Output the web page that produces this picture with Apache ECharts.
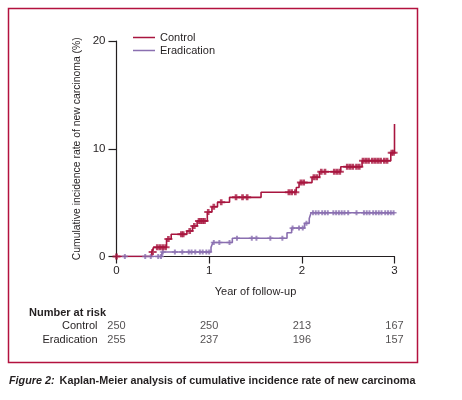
<!DOCTYPE html>
<html>
<head>
<meta charset="utf-8">
<script src="https://cdn.jsdelivr.net/npm/echarts@6/dist/echarts.min.js"></script>
<style>
html,body{margin:0;padding:0;background:#fff;}
#chart{width:462px;height:400px;}
</style>
</head>
<body>
<div id="chart"></div>
<script>
// ---- data ----
var seriesNames = ['Control', 'Eradication'];
// Kaplan-Meier steps: [time (years), cumulative incidence (%) after event]
var controlSteps = [[0,0],[0.38,0.42],[0.40,0.85],[0.54,1.62],[0.59,2.06],[0.76,2.37],[0.82,2.83],[0.87,3.29],[0.98,4.13],[1.03,4.62],[1.09,5.03],[1.22,5.49],[1.56,5.96],[1.94,6.40],[1.97,6.86],[2.11,7.35],[2.19,7.87],[2.42,8.33],[2.65,8.89],[2.96,9.63],[3.00,12.3]];
var eradicationSteps = [[0,0],[0.49,0.42],[1.02,0.85],[1.04,1.30],[1.25,1.69],[1.84,2.21],[1.89,2.64],[2.03,3.08],[2.08,3.52],[2.10,4.06],[3.00,4.06]];
// censoring times (years)
var controlCensor = [0,0.39,0.44,0.47,0.50,0.53,0.56,0.70,0.72,0.79,0.84,0.89,0.91,0.93,0.95,0.99,1.05,1.13,1.29,1.36,1.41,1.86,1.89,1.93,1.99,2.02,2.13,2.16,2.21,2.25,2.35,2.38,2.41,2.49,2.52,2.55,2.59,2.62,2.66,2.69,2.72,2.76,2.79,2.82,2.85,2.89,2.92,2.97,2.99];
var eradicationCensor = [0.09,0.31,0.37,0.45,0.48,0.50,0.63,0.71,0.78,0.81,0.85,0.90,0.93,0.97,1.00,1.05,1.11,1.22,1.30,1.46,1.51,1.66,1.79,1.90,1.97,2.01,2.05,2.12,2.15,2.18,2.22,2.25,2.28,2.34,2.37,2.40,2.43,2.46,2.50,2.59,2.67,2.70,2.73,2.77,2.80,2.83,2.86,2.90,2.93,2.96,2.99];
var xTicks = [0,1,2,3];
var yTicks = [0,10,20];
var riskTimes = [0,1,2,3];
var controlRisk = [250,250,213,167];
var eradicationRisk = [255,237,196,157];

// ---- helpers ----
function stepValue(steps, t){
  var v = 0;
  for (var i=0;i<steps.length;i++){ if (steps[i][0] <= t + 1e-9 && steps[i][1] <= 12) v = steps[i][1]; }
  return v;
}
function censorPoints(steps, times){
  return times.map(function(t){ return [t, stepValue(steps, t)]; });
}
function riskPoints(row, vals){
  return vals.map(function(v,i){ return [riskTimes[i], row, v]; });
}

var RED = '#a8153f', PURPLE = '#8a6fb0', FRAME = '#b3123f', INK = '#231f20';
var FONT = '"Liberation Sans", Arial, sans-serif';
var FS = 11;
var plus = 'path://M2,0H4V2H6V4H4V6H2V4H0V2H2Z';

var chart = echarts.init(document.getElementById('chart'), null, {renderer:'canvas'});
chart.setOption({
  animation:false,
  textStyle:{fontFamily:FONT, color:INK},
  graphic:[{type:'rect', shape:{x:8.5,y:8.5,width:409,height:354}, style:{fill:'none', stroke:FRAME, lineWidth:1.5}, silent:true}],
  title:[
    {text:'Number at risk', left:24, top:302, textStyle:{fontFamily:FONT, fontSize:FS, fontWeight:'bold', color:INK}},
    {text:'{i|Figure 2:} {b|Kaplan-Meier analysis of cumulative incidence rate of new carcinoma}', left:4, top:367,
      textStyle:{rich:{i:{fontFamily:FONT, fontSize:10.8, fontWeight:'bold', fontStyle:'italic', color:INK}, b:{fontFamily:FONT, fontSize:10.8, fontWeight:'bold', color:INK}}}}
  ],
  legend:{data:seriesNames, left:128, top:27, orient:'vertical', itemWidth:22, itemHeight:1.5, itemGap:2, icon:'rect',
    textStyle:{fontFamily:FONT, fontSize:FS, color:INK}},
  grid:[
    {left:116.5, right:67.5, top:41, bottom:143.5},
    {left:116.5, right:67.5, top:319, height:28}
  ],
  xAxis:[
    {type:'value', gridIndex:0, min:0, max:3, interval:1, name:'Year of follow-up', nameLocation:'middle', nameGap:30,
      nameTextStyle:{fontFamily:FONT, fontSize:FS, color:INK},
      axisLine:{lineStyle:{color:INK, width:1.2}}, axisTick:{length:7, lineStyle:{color:INK, width:1.2}},
      axisLabel:{fontFamily:FONT, fontSize:FS+0.5, color:INK, margin:8, formatter:function(v){return xTicks.indexOf(v)>=0?String(v):'';}},
      splitLine:{show:false}},
    {type:'value', gridIndex:1, min:0, max:3, show:false}
  ],
  yAxis:[
    {type:'value', gridIndex:0, min:0, max:20, interval:10, name:'Cumulative incidence rate of new carcinoma (%)', nameLocation:'middle', nameGap:27,
      nameTextStyle:{fontFamily:FONT, fontSize:10.4, color:INK},
      axisLine:{show:true, lineStyle:{color:INK, width:1.2}}, axisTick:{show:true, length:8, lineStyle:{color:INK, width:1.2}},
      axisLabel:{fontFamily:FONT, fontSize:FS+0.5, color:INK, margin:11, formatter:function(v){return yTicks.indexOf(v)>=0?String(v):'';}},
      splitLine:{show:false}},
    {type:'category', gridIndex:1, data:seriesNames, inverse:true, axisLine:{show:false}, axisTick:{show:false},
      axisLabel:{fontFamily:FONT, fontSize:FS, color:INK, margin:19, interval:0}}
  ],
  series:[
    {name:'Control', type:'line', step:'end', data:controlSteps, showSymbol:false, lineStyle:{color:RED, width:1.6}, itemStyle:{color:RED}, z:3},
    {name:'Eradication', type:'line', step:'end', data:eradicationSteps, showSymbol:false, lineStyle:{color:PURPLE, width:1.6}, itemStyle:{color:PURPLE}, z:2},
    {name:'Control', type:'scatter', data:censorPoints(controlSteps, controlCensor), symbol:plus, symbolSize:[8,6], itemStyle:{color:RED}, z:4},
    {name:'Eradication', type:'scatter', data:censorPoints(eradicationSteps, eradicationCensor), symbol:plus, symbolSize:[6,5], itemStyle:{color:PURPLE}, z:3},
    {type:'scatter', xAxisIndex:1, yAxisIndex:1, symbolSize:0, data:riskPoints('Control', controlRisk),
      label:{show:true, position:'inside', formatter:function(p){return p.value[2];}, fontFamily:FONT, fontSize:FS, color:INK}},
    {type:'scatter', xAxisIndex:1, yAxisIndex:1, symbolSize:0, data:riskPoints('Eradication', eradicationRisk),
      label:{show:true, position:'inside', formatter:function(p){return p.value[2];}, fontFamily:FONT, fontSize:FS, color:INK}}
  ]
});
</script>
</body>
</html>
